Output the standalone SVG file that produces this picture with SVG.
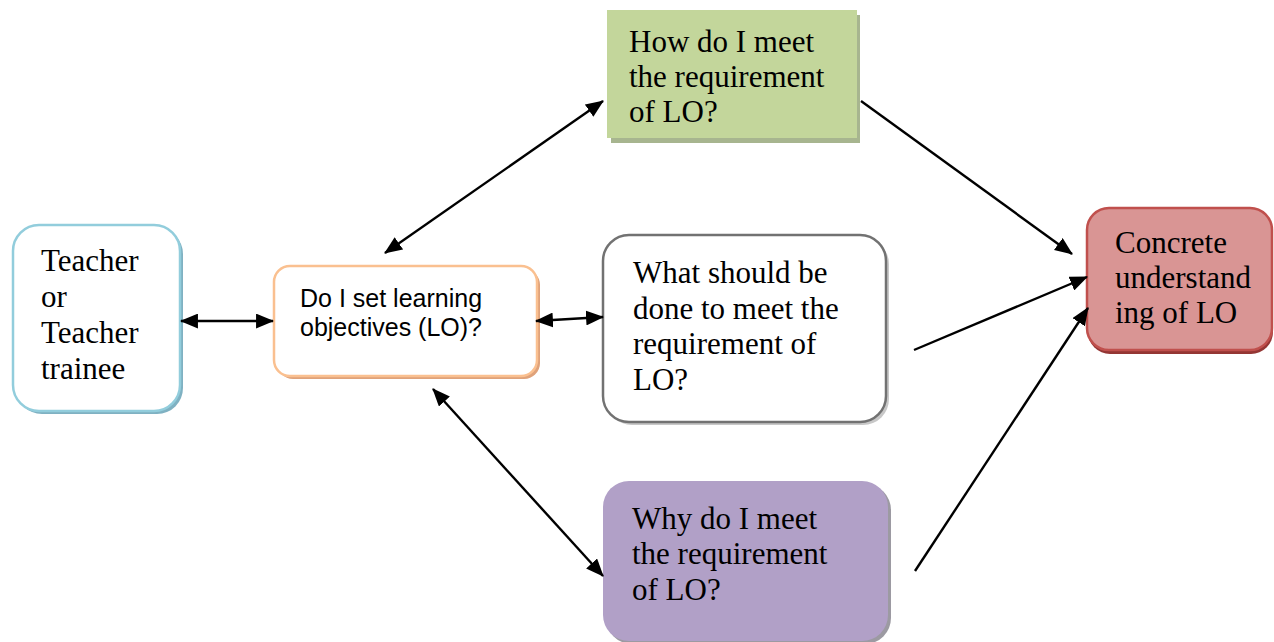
<svg xmlns="http://www.w3.org/2000/svg" width="1274" height="642" viewBox="0 0 1274 642">
<defs>
<style>
.tm{font-family:"Liberation Serif","Times New Roman",serif;font-size:31px;fill:#000}
.ar{font-family:"Liberation Sans",Arial,sans-serif;font-size:25px;fill:#000}
.c{stroke:#000;stroke-width:2.4;fill:none;marker-end:url(#ah)}
.d{marker-start:url(#ah)}
</style>
<marker id="ah" markerUnits="userSpaceOnUse" markerWidth="18" markerHeight="15" refX="16" refY="7" orient="auto-start-reverse" viewBox="0 0 17 14">
<path d="M0,0 L17,7 L0,14 z" fill="#000"/>
</marker>
</defs>
<rect width="1274" height="642" fill="#fff"/>

<g id="teacher">
<rect x="16" y="228" width="167" height="186" rx="26" fill="#7fb1c2"/>
<rect x="13" y="225" width="167" height="186" rx="26" fill="#fff" stroke="#92cddc" stroke-width="2.5"/>
<text class="tm" x="41"><tspan x="41" y="271">Teacher</tspan><tspan x="41" y="307">or</tspan><tspan x="41" y="343">Teacher</tspan><tspan x="41" y="379">trainee</tspan></text>
</g>

<g id="lo">
<rect x="277" y="269" width="263" height="110" rx="16" fill="#dfa27a"/>
<rect x="274" y="266" width="263" height="110" rx="16" fill="#fff" stroke="#fac090" stroke-width="2.5"/>
<text class="ar"><tspan x="300" y="307">Do I set learning</tspan><tspan x="300" y="336">objectives (LO)?</tspan></text>
</g>

<g id="how">
<rect x="611" y="15" width="249" height="128" fill="#a7b58f"/>
<rect x="607" y="10" width="250" height="128" fill="#c3d69b"/>
<text class="tm"><tspan x="629" y="52">How do I meet</tspan><tspan x="629" y="87">the requirement</tspan><tspan x="629" y="122">of LO?</tspan></text>
</g>

<g id="what">
<rect x="606" y="238" width="283" height="187" rx="26" fill="#c8c8c8"/>
<rect x="603" y="235" width="283" height="187" rx="26" fill="#fff" stroke="#727272" stroke-width="2.5"/>
<text class="tm"><tspan x="633" y="283">What should be</tspan><tspan x="633" y="318.5">done to meet the</tspan><tspan x="633" y="354">requirement of</tspan><tspan x="633" y="389.5">LO?</tspan></text>
</g>

<g id="why">
<rect x="606" y="484" width="285" height="160" rx="26" fill="#9c9aa2"/>
<rect x="603" y="481" width="285" height="160" rx="26" fill="#b1a0c7"/>
<text class="tm"><tspan x="632" y="529">Why do I meet</tspan><tspan x="632" y="564">the requirement</tspan><tspan x="632" y="600">of LO?</tspan></text>
</g>

<g id="concrete">
<rect x="1088" y="211" width="185" height="143" rx="22" fill="#943634"/>
<rect x="1087" y="208" width="185" height="142" rx="22" fill="#d99594" stroke="#c0504d" stroke-width="2.5"/>
<text class="tm"><tspan x="1115" y="253">Concrete</tspan><tspan x="1115" y="288">understand</tspan><tspan x="1115" y="323">ing of LO</tspan></text>
</g>

<g id="connectors">
<line class="c d" x1="181" y1="321" x2="273" y2="321"/>
<line class="c d" x1="385" y1="253" x2="603" y2="101"/>
<line class="c d" x1="536" y1="321" x2="603" y2="317"/>
<line class="c d" x1="433" y1="389" x2="603" y2="576"/>
<line class="c" x1="861" y1="101" x2="1072" y2="254"/>
<line class="c" x1="914" y1="350" x2="1087" y2="277"/>
<line class="c" x1="915" y1="571" x2="1088" y2="308"/>
</g>
</svg>
